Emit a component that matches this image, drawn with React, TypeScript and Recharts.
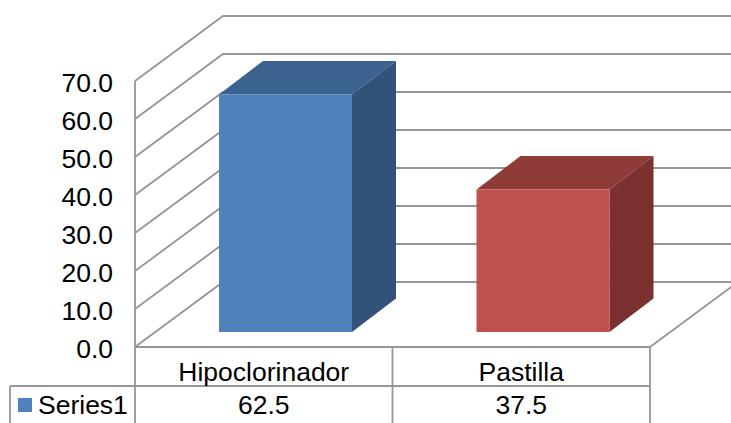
import React from 'react';
import { BarChart, Bar, XAxis, YAxis, CartesianGrid, Customized } from 'recharts';

const categories = ['Hipoclorinador', 'Pastilla'];
const seriesValues = [62.5, 37.5];
const seriesName = 'Series1';
const yTicks = [0, 10, 20, 30, 40, 50, 60, 70];

const data = categories.map((name, i) => ({ name, value: seriesValues[i] }));

const W = 731;
const H = 423;
const plot = { left: 135, right: 650, top: 81, bottom: 347 };
const GRID = '#969696';
const FONT = '"Liberation Sans", Arial, sans-serif';
const FS = 26.5;

// wall depth of the fake 3D box, and how far a bar sits inside it
const wallDx = 88;
const wallDy = -65;
const barShiftX = 22;
const barShiftY = -15;
const barDx = 44;
const barDy = -33.5;

const faces = [
  { front: '#4F81BD', top: '#3C6290', side: '#32527A' },
  { front: '#C0504D', top: '#8F3B38', side: '#7A312F' },
];

const Bar3D = (props: any) => {
  const { x, y, width, height, index } = props;
  const c = faces[index];
  const l = x + barShiftX;
  const r = l + width;
  const t = y + barShiftY;
  const b = t + height;
  return (
    <g>
      <polygon points={`${l},${t} ${r},${t} ${r + barDx},${t + barDy} ${l + barDx},${t + barDy}`} fill={c.top} />
      <polygon points={`${r},${t} ${r + barDx},${t + barDy} ${r + barDx},${b + barDy} ${r},${b}`} fill={c.side} />
      <rect x={l} y={t} width={width} height={height} fill={c.front} />
    </g>
  );
};

const WallLine = (props: any) => {
  const { x1, x2, y1 } = props;
  return (
    <polyline
      points={`${x1},${y1} ${x1 + wallDx},${y1 + wallDy} ${x2 + wallDx},${y1 + wallDy}`}
      fill="none"
      stroke={GRID}
      strokeWidth={1.8}
    />
  );
};

const TableTick = (props: any) => {
  const { x, payload, index } = props;
  return (
    <g fontFamily={FONT} fontSize={FS} fill="#000" textAnchor="middle">
      <text x={x} y={372} dominantBaseline="central">{payload.value}</text>
      <text x={x} y={405} dominantBaseline="central">{seriesValues[index].toFixed(1)}</text>
    </g>
  );
};

// data table rules, legend key and the floor's right edge
const Frame = () => {
  const mid = (plot.left + plot.right) / 2;
  return (
    <g stroke={GRID} strokeWidth={1.8} fill="none">
      <line x1={plot.right} y1={plot.bottom} x2={plot.right + wallDx} y2={plot.bottom + wallDy} />
      <line x1={10} y1={386} x2={plot.right} y2={386} />
      <line x1={10} y1={386} x2={10} y2={H} />
      <line x1={plot.left} y1={plot.bottom} x2={plot.left} y2={H} />
      <line x1={mid} y1={plot.bottom} x2={mid} y2={H} />
      <line x1={plot.right} y1={plot.bottom} x2={plot.right} y2={H} />
      <rect x={18} y={398} width={14} height={14} fill={faces[0].front} stroke="none" />
      <text x={38} y={405} dominantBaseline="central" fontFamily={FONT} fontSize={FS} fill="#000" stroke="none">
        {seriesName}
      </text>
    </g>
  );
};

export default function App() {
  return (
    <div style={{ position: 'fixed', left: 0, top: 0, width: W, height: H, background: '#fff' }}>
      <BarChart
        width={W}
        height={H}
        data={data}
        barSize={133}
        margin={{ top: plot.top, right: W - plot.right, bottom: 0, left: 0 }}
      >
        <CartesianGrid vertical={false} horizontal={(p: any) => <WallLine key={p.key ?? p.y1} {...p} />} />
        <XAxis
          dataKey="name"
          height={H - plot.bottom}
          axisLine={{ stroke: GRID, strokeWidth: 1.8 }}
          tickLine={false}
          tick={<TableTick />}
          interval={0}
        />
        <YAxis
          width={plot.left}
          domain={[0, 70]}
          ticks={yTicks}
          interval={0}
          axisLine={{ stroke: GRID, strokeWidth: 1.8 }}
          tickLine={false}
          tickMargin={16}
          tickFormatter={(v: number) => v.toFixed(1)}
          tick={{ fill: '#000', fontSize: FS, fontFamily: FONT, dy: 2 }}
        />
        <Bar dataKey="value" shape={<Bar3D />} isAnimationActive={false} />
        <Customized component={<Frame />} />
      </BarChart>
    </div>
  );
}
